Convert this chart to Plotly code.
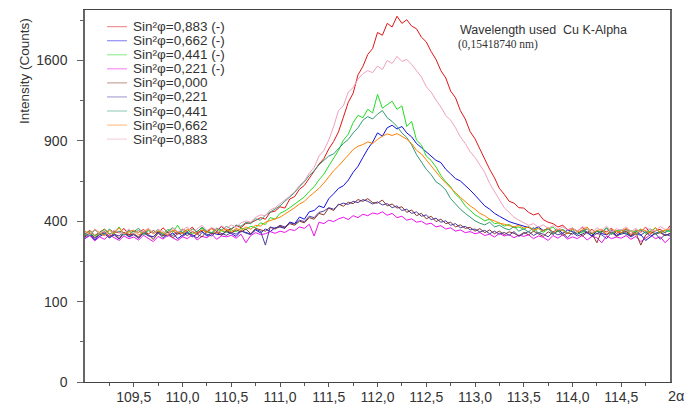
import numpy as np
import plotly.graph_objects as go

# 2-theta grid: 109.00 .. 115.00 step 0.05 (121 points)
two_theta = [round(109.0 + 0.05 * i, 2) for i in range(121)]

# Intensity (counts), rows of 10 points (0.5 deg each) + last point
red_883n = [
    340, 356, 332, 349, 362, 338, 351, 344, 365, 335,
    352, 347, 360, 339, 355, 343, 368, 346, 353, 338,
    362, 350, 371, 344, 358, 349, 366, 352, 374, 356,
    362, 378, 369, 389, 392, 404, 418, 410, 446, 452,
    475, 468, 518, 532, 575, 598, 640, 688, 735, 772,
    840, 895, 968, 1085, 1210, 1290, 1460, 1540, 1660, 1720,
    1890, 1860, 1990, 1950, 2070, 1990, 2030, 1960, 1930, 1840,
    1790, 1690, 1610, 1500, 1430, 1310, 1250, 1140, 1070, 970,
    915, 840, 765, 700, 645, 580, 545, 505, 495, 470,
    468, 445, 432, 440, 408, 395, 388, 372, 380, 358,
    366, 352, 370, 345, 361, 338, 357, 349, 366, 341,
    355, 360, 336, 358, 347, 372, 340, 353, 361, 344,
    378]
blue_662n = [
    318, 334, 312, 328, 340, 322, 335, 316, 343, 327,
    338, 320, 346, 331, 325, 350, 336, 329, 344, 318,
    333, 347, 326, 340, 352, 329, 345, 338, 335, 350,
    341, 328, 352, 346, 338, 358, 344, 362, 350, 368,
    372, 365, 396, 388, 421, 410, 448, 455, 480, 470,
    520, 548, 580, 596, 630, 680, 720, 780, 840, 890,
    960, 935, 1000, 1020, 990, 1010, 960, 930, 880, 850,
    820, 790, 760, 745, 700, 670, 640, 625, 600, 570,
    540, 508, 480, 462, 440, 425, 410, 398, 390, 382,
    375, 368, 362, 372, 355, 364, 348, 360, 342, 357,
    350, 338, 356, 344, 330, 352, 341, 335, 358, 332,
    346, 339, 328, 351, 336, 310, 326, 342, 350, 333,
    340]
green_441n = [
    335, 352, 328, 346, 360, 339, 344, 372, 336, 350,
    341, 357, 332, 364, 345, 352, 338, 361, 347, 380,
    343, 358, 339, 352, 366, 348, 341, 361, 355, 346,
    358, 349, 366, 360, 375, 368, 392, 384, 418, 410,
    440, 452, 470, 488, 508, 530, 562, 590, 632, 668,
    722, 780, 830, 905, 950, 1040, 1100, 1080, 1150, 1120,
    1280, 1160, 1190, 1220, 1150, 1180, 1010, 1050, 905, 870,
    790, 760, 715, 660, 620, 590, 545, 520, 480, 455,
    432, 418, 402, 410, 388, 392, 376, 384, 368, 372,
    360, 375, 352, 368, 346, 362, 371, 349, 358, 340,
    365, 350, 343, 362, 338, 356, 348, 367, 341, 352,
    359, 336, 355, 348, 362, 340, 351, 366, 344, 357,
    350]
magenta_221n = [
    320, 332, 308, 326, 315, 336, 322, 310, 330, 318,
    325, 312, 333, 320, 305, 328, 316, 334, 321, 310,
    326, 318, 335, 312, 328, 322, 338, 315, 330, 326,
    333, 320, 338, 300, 332, 345, 336, 340, 350, 342,
    352, 346, 360, 355, 372, 365, 385, 330, 395, 388,
    405, 398, 412, 420, 408, 428, 418, 435, 428, 442,
    436, 448, 430, 440, 418, 425, 405, 412, 395, 400,
    385, 390, 372, 378, 362, 368, 352, 358, 345, 350,
    340, 346, 332, 338, 325, 342, 330, 336, 322, 334,
    328, 335, 318, 330, 324, 310, 332, 320, 335, 316,
    326, 318, 333, 312, 328, 322, 300, 330, 318, 325,
    320, 332, 315, 328, 305, 322, 336, 318, 326, 300,
    322]
brown_000 = [
    330, 345, 322, 338, 350, 327, 341, 318, 346, 333,
    340, 325, 352, 336, 314, 343, 330, 348, 322, 339,
    345, 331, 350, 338, 326, 352, 340, 346, 334, 355,
    343, 358, 348, 362, 340, 365, 357, 352, 370, 362,
    375, 368, 388, 380, 400, 392, 418, 410, 440, 432,
    468, 455, 490, 478, 500, 492, 515, 505, 520, 498,
    495, 512, 480, 490, 468, 475, 445, 458, 428, 440,
    412, 425, 398, 410, 388, 395, 372, 382, 365, 370,
    352, 364, 345, 358, 340, 352, 336, 349, 342, 330,
    346, 335, 352, 340, 328, 349, 337, 355, 332, 344,
    338, 351, 329, 346, 341, 300, 354, 336, 348, 327,
    343, 352, 330, 345, 290, 334, 349, 339, 345, 331,
    342]
slate_221 = [
    326, 340, 318, 335, 344, 322, 337, 330, 348, 325,
    336, 320, 344, 331, 327, 345, 322, 338, 333, 347,
    328, 342, 335, 320, 346, 337, 330, 350, 341, 333,
    346, 338, 355, 343, 336, 360, 352, 290, 372, 365,
    380, 372, 392, 386, 405, 398, 425, 418, 445, 452,
    470, 462, 485, 495, 488, 505, 498, 515, 505, 490,
    502, 485, 492, 470, 480, 455, 462, 440, 448, 425,
    432, 408, 415, 395, 402, 380, 388, 368, 375, 358,
    362, 348, 356, 340, 352, 338, 346, 333, 350, 328,
    341, 350, 332, 345, 338, 326, 347, 335, 342, 322,
    345, 330, 338, 350, 326, 342, 335, 318, 346, 332,
    338, 345, 325, 340, 333, 350, 329, 342, 315, 338,
    330]
teal_441 = [
    344, 330, 358, 341, 336, 362, 345, 352, 333, 357,
    349, 366, 338, 355, 343, 360, 334, 351, 369, 346,
    355, 340, 362, 349, 371, 352, 345, 366, 358, 374,
    362, 381, 375, 394, 388, 412, 405, 430, 445, 462,
    480, 505, 530, 555, 590, 620, 660, 690, 730, 760,
    790, 805, 845, 880, 910, 960, 1000, 1060, 1090, 1070,
    1110, 1140, 1080, 1050, 1010, 960, 925, 870, 800, 750,
    700, 665, 620, 600, 570, 520, 490, 462, 440, 420,
    402, 390, 382, 395, 372, 380, 366, 358, 374, 352,
    363, 348, 370, 342, 356, 365, 338, 352, 360, 344,
    358, 337, 352, 364, 341, 350, 345, 368, 336, 355,
    342, 360, 351, 334, 357, 345, 363, 339, 352, 346,
    358]
orange_662 = [
    352, 338, 361, 345, 330, 356, 342, 368, 340, 349,
    357, 334, 346, 362, 339, 353, 345, 331, 358, 348,
    340, 362, 351, 336, 357, 346, 364, 342, 355, 360,
    348, 365, 356, 372, 361, 380, 376, 395, 402, 410,
    420, 436, 452, 470, 490, 505, 532, 555, 580, 612,
    652, 690, 722, 760, 800, 835, 860, 872, 892, 880,
    910, 935, 952, 940, 955, 930, 912, 880, 830, 805,
    762, 720, 682, 645, 612, 580, 555, 528, 502, 480,
    462, 440, 428, 410, 402, 390, 385, 378, 372, 380,
    366, 372, 358, 364, 352, 370, 346, 361, 355, 340,
    364, 348, 357, 372, 343, 355, 362, 338, 360, 352,
    345, 366, 350, 338, 361, 354, 342, 370, 346, 358,
    362]
pink_883 = [
    348, 335, 360, 342, 354, 331, 358, 345, 340, 363,
    338, 356, 349, 366, 341, 359, 352, 337, 368, 350,
    357, 372, 346, 361, 380, 355, 369, 358, 377, 364,
    382, 370, 392, 401, 396, 420, 432, 428, 458, 470,
    490, 512, 535, 560, 598, 625, 675, 712, 790, 830,
    905, 1010, 1140, 1180, 1300, 1340, 1420, 1470, 1500, 1480,
    1545, 1510, 1600, 1570, 1640, 1590, 1610, 1560, 1500, 1440,
    1350, 1300, 1230, 1170, 1100, 1060, 1000, 930, 880, 820,
    780, 730, 680, 610, 560, 510, 470, 445, 420, 405,
    392, 380, 388, 371, 382, 365, 378, 360, 372, 356,
    368, 350, 374, 362, 345, 368, 355, 376, 348, 363,
    357, 372, 350, 366, 343, 369, 358, 352, 374, 360,
    366]

series_labels = [
    "Sin²φ=0,883 (-)", "Sin²φ=0,662 (-)", "Sin²φ=0,441 (-)", "Sin²φ=0,221 (-)",
    "Sin²φ=0,000", "Sin²φ=0,221", "Sin²φ=0,441", "Sin²φ=0,662", "Sin²φ=0,883",
]
series_values = [red_883n, blue_662n, green_441n, magenta_221n, brown_000,
                 slate_221, teal_441, orange_662, pink_883]
series_colors = ["#e01515", "#1010e0", "#22dd22", "#ee10ee", "#8b3626",
                 "#4b3c9c", "#2f9a70", "#ff8000", "#f0a0c0"]

y_tick_counts = [0, 100, 400, 900, 1600]
y_minor_counts = [25, 225, 625, 1225, 2025]
x_tick_vals = [109.5, 110.0, 110.5, 111.0, 111.5, 112.0, 112.5, 113.0, 113.5, 114.0, 114.5]
x_tick_text = ["109,5", "110,0", "110,5", "111,0", "111,5", "112,0", "112,5",
               "113,0", "113,5", "114,0", "114,5"]
x_minor_vals = [109.25 + 0.5 * k for k in range(12)]

FONT = "Liberation Sans, Arial, sans-serif"

fig = go.Figure()
for name, vals, col in zip(series_labels, series_values, series_colors):
    fig.add_trace(go.Scatter(
        x=two_theta, y=np.sqrt(np.array(vals, dtype=float)),
        mode="lines", name=name, line=dict(color=col, width=1),
        showlegend=False,
    ))

# manual legend (compact rows as in reference)
L, R, T, B = 85, 25, 10, 25
W, H = 695, 407
pw, ph = W - L - R, H - T - B
def px(xp):
    return (xp - L) / pw
def py(yp):
    return (H - B - yp) / ph

row_y = [26.7 + 14.05 * k for k in range(9)]
for name, col, yy in zip(series_labels, series_colors, row_y):
    fig.add_shape(type="line", xref="paper", yref="paper",
                  x0=px(107), x1=px(127), y0=py(yy), y1=py(yy),
                  line=dict(color=col, width=1), opacity=0.55)
    fig.add_annotation(xref="paper", yref="paper", x=px(132), y=py(yy),
                       text=name, showarrow=False, xanchor="left", yanchor="middle",
                       borderpad=0,
                       font=dict(family=FONT, size=13.5, color="#333333"))

fig.add_annotation(xref="paper", yref="paper", x=px(459), y=py(30),
                   text="Wavelength used  Cu K-Alpha", showarrow=False,
                   xanchor="left", yanchor="middle", borderpad=0,
                   font=dict(family=FONT, size=12.5, color="#333333"))
fig.add_annotation(xref="paper", yref="paper", x=px(457), y=py(44),
                   text="(0,15418740 nm)", showarrow=False,
                   xanchor="left", yanchor="middle", borderpad=0,
                   font=dict(family="Liberation Serif, Times New Roman, serif", size=11.5, color="#333333"))
fig.add_annotation(xref="paper", yref="paper", x=px(676), y=py(396),
                   text="2α", showarrow=False, xanchor="center", yanchor="middle",
                   borderpad=0,
                   font=dict(family=FONT, size=14.5, color="#333333"))
fig.add_annotation(xref="paper", yref="paper", x=px(25), y=py(71),
                   text="Intensity (Counts)", showarrow=False, textangle=-90,
                   xanchor="center", yanchor="middle",
                   font=dict(family=FONT, size=13.5, color="#333333"))

fig.update_layout(
    width=W, height=H,
    margin=dict(l=L, r=R, t=T, b=B, pad=0, autoexpand=False),
    paper_bgcolor="white", plot_bgcolor="white",
    font=dict(family=FONT, size=14, color="#333333"),
    showlegend=False,
    xaxis=dict(
        automargin=False,
        range=[109.0, 115.0], tickmode="array", tickvals=x_tick_vals, ticktext=x_tick_text,
        ticks="outside", ticklen=4, tickcolor="#555555", tickwidth=1,
        ticklabelstandoff=-2,
        minor=dict(tickmode="array", tickvals=x_minor_vals, ticks="outside",
                   ticklen=3, tickcolor="#555555", showgrid=False),
        showgrid=False, zeroline=False,
        showline=True, linecolor="#444444", linewidth=1, mirror=True,
        tickfont=dict(family=FONT, size=14, color="#333333"),
    ),
    yaxis=dict(
        automargin=False,
        range=[0, 46.27], tickmode="array",
        tickvals=[np.sqrt(v) for v in y_tick_counts],
        ticktext=[str(v) for v in y_tick_counts],
        ticks="outside", ticklen=6, tickcolor="#666666", tickwidth=1,
        ticklabelstandoff=7,
        minor=dict(tickmode="array", tickvals=[np.sqrt(v) for v in y_minor_counts],
                   ticks="outside", ticklen=3, tickcolor="#666666", showgrid=False),
        showgrid=False, zeroline=False,
        showline=True, linecolor="#666666", linewidth=1.5, mirror=True,
        tickfont=dict(family=FONT, size=14, color="#333333"),
    ),
)

fig.write_html(
    "out.html",
    config={"displayModeBar": False},
    post_script="document.body.style.margin='0';document.body.style.overflow='hidden';",
)
